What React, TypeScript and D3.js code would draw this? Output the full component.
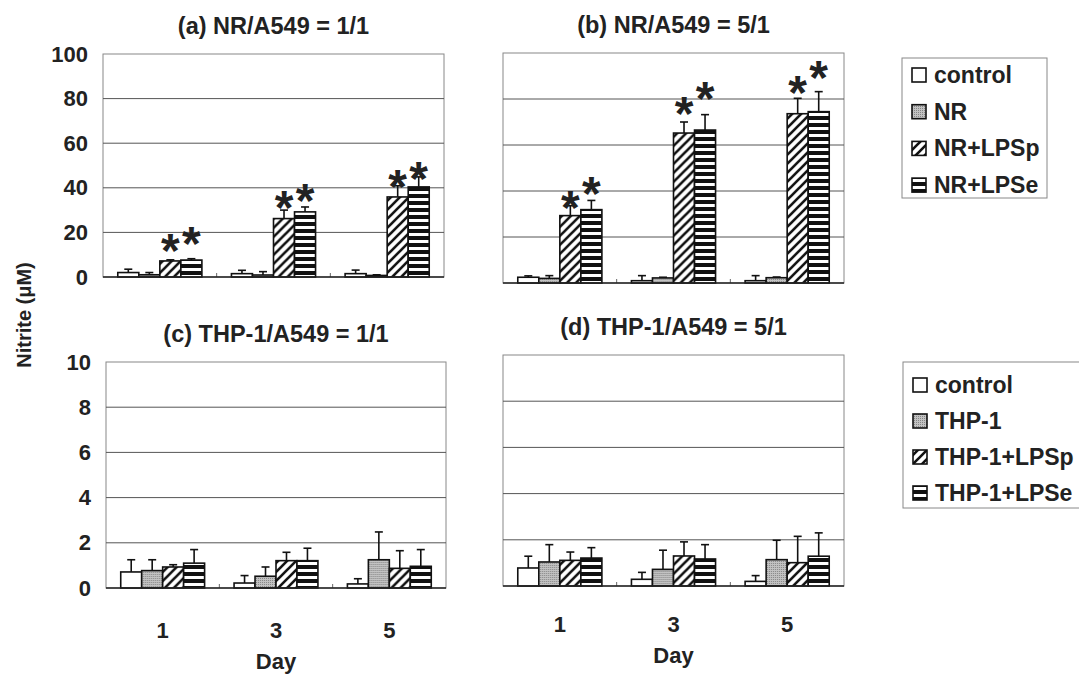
import React, { useRef, useEffect } from "react";
import * as d3 from "d3";

const days = ["1", "3", "5"];
const seriesKeys = ["control", "cells", "LPSp", "LPSe"];
const nrLegend = ["control", "NR", "NR+LPSp", "NR+LPSe"];
const thpLegend = ["control", "THP-1", "THP-1+LPSp", "THP-1+LPSe"];

// rows = day 1, 3, 5 ; cols = control, cells, +LPSp, +LPSe
const nr11Mean = [[2.0, 1.0, 7.2, 7.6], [1.5, 0.9, 26.2, 29.2], [1.5, 0.7, 35.9, 40.4]];
const nr11Err = [[1.5, 1.0, 0.5, 0.6], [1.5, 1.5, 3.8, 2.2], [1.6, 0.3, 5.0, 4.5]];
const nr11Stars = [[16.6, 19.7], [36, 39], [45.3, 48.9]];

const nr51Mean = [[2.5, 2.0, 29.3, 31.9], [1.0, 2.2, 65.2, 66.5], [1.0, 2.3, 73.6, 74.5]];
const nr51Err = [[0.6, 1.2, 4.3, 4.0], [2.2, 0.3, 4.8, 6.7], [2.2, 0.3, 6.7, 8.7]];
const nr51Stars = [[37.5, 43.5], [78.3, 84.8], [87.4, 93.9]];

const thp11Mean = [[0.71, 0.77, 0.93, 1.1], [0.22, 0.52, 1.21, 1.21], [0.18, 1.25, 0.87, 0.96]];
const thp11Err = [[0.54, 0.48, 0.1, 0.6], [0.33, 0.41, 0.37, 0.55], [0.23, 1.23, 0.78, 0.74]];

const thp51Mean = [[0.78, 1.04, 1.11, 1.21], [0.29, 0.72, 1.3, 1.17], [0.2, 1.14, 1.01, 1.29]];
const thp51Err = [[0.51, 0.75, 0.36, 0.45], [0.3, 0.83, 0.61, 0.62], [0.25, 0.84, 1.14, 1.01]];

const font = "'Liberation Sans', Arial, sans-serif";
const fills = ["#ffffff", "url(#pat-gray)", "url(#pat-diag)", "url(#pat-horiz)"];

const panels = [
  { title: "(a) NR/A549 = 1/1", mean: nr11Mean, err: nr11Err, stars: nr11Stars, max: 100, step: 20,
    left: 103, right: 444, top: 54, bottom: 277, yLabels: true, xLabels: false },
  { title: "(b) NR/A549 = 5/1", mean: nr51Mean, err: nr51Err, stars: nr51Stars, max: 100, step: 20,
    left: 503, right: 844, top: 53, bottom: 283, yLabels: false, xLabels: false },
  { title: "(c) THP-1/A549 = 1/1", mean: thp11Mean, err: thp11Err, stars: null, max: 10, step: 2,
    left: 106, right: 446, top: 362, bottom: 588, yLabels: true, xLabels: true, tickGap: 50, dayGap: 81 },
  { title: "(d) THP-1/A549 = 5/1", mean: thp51Mean, err: thp51Err, stars: null, max: 10, step: 2,
    left: 503, right: 844, top: 355, bottom: 586, yLabels: false, xLabels: true, tickGap: 46, dayGap: 77 },
];

const legends = [
  { labels: nrLegend, x: 902, y: 58, w: 145, h: 140, rowY: 75, row: 36.7 },
  { labels: thpLegend, x: 903, y: 362, w: 182, h: 146, rowY: 385, row: 36 },
];

const drawPanel = (svg, p) => {
  const width = p.right - p.left;
  const height = p.bottom - p.top;
  const g = svg.append("g").attr("transform", `translate(${p.left},${p.top})`);

  const x0 = d3.scaleBand().domain(days).range([0, width]).paddingInner(0.26).paddingOuter(0.13);
  const x1 = d3.scaleBand().domain(seriesKeys).range([0, x0.bandwidth()]);
  const y = d3.scaleLinear().domain([0, p.max]).range([height, 0]);
  const ticks = d3.range(0, p.max + p.step / 2, p.step);

  // frame + grid
  g.append("rect").attr("width", width).attr("height", height)
    .attr("fill", "none").attr("stroke", "#888").attr("stroke-width", 1);
  g.selectAll(".grid").data(ticks.slice(1, -1)).join("line")
    .attr("x1", 0).attr("x2", width).attr("y1", (d) => y(d)).attr("y2", (d) => y(d))
    .attr("stroke", "#555").attr("stroke-width", 1);

  if (p.yLabels) {
    const ya = g.append("g").call(d3.axisLeft(y).tickValues(ticks).tickSize(0).tickPadding(15));
    ya.select(".domain").remove();
    ya.selectAll("text").attr("font-family", font).attr("font-weight", "bold")
      .attr("font-size", 22).attr("fill", "#222");
  }

  // small separators between days
  g.selectAll(".sep").data(days.slice(1)).join("line")
    .attr("x1", (d) => x0(d) - (x0.step() - x0.bandwidth()) / 2)
    .attr("x2", (d) => x0(d) - (x0.step() - x0.bandwidth()) / 2)
    .attr("y1", height).attr("y2", height - 4)
    .attr("stroke", "#666").attr("stroke-width", 1);

  const groups = g.selectAll(".day").data(days).join("g")
    .attr("transform", (d) => `translate(${x0(d)},0)`);

  groups.each(function (day, i) {
    const grp = d3.select(this);
    const rows = seriesKeys.map((k, j) => ({ k, j, v: p.mean[i][j], e: p.err[i][j] }));
    // error bars (upper only)
    rows.forEach((r) => {
      const cx = x1(r.k) + x1.bandwidth() / 2;
      grp.append("line").attr("x1", cx).attr("x2", cx)
        .attr("y1", y(r.v)).attr("y2", y(r.v + r.e))
        .attr("stroke", "#111").attr("stroke-width", 1.6);
      grp.append("line").attr("x1", cx - 4).attr("x2", cx + 4)
        .attr("y1", y(r.v + r.e)).attr("y2", y(r.v + r.e))
        .attr("stroke", "#111").attr("stroke-width", 1.6);
    });
    grp.selectAll("rect").data(rows).join("rect")
      .attr("x", (r) => x1(r.k)).attr("width", x1.bandwidth())
      .attr("y", (r) => y(r.v)).attr("height", (r) => height - y(r.v))
      .attr("fill", (r) => fills[r.j]).attr("stroke", "#111").attr("stroke-width", 1.6);
    if (p.stars) {
      ["LPSp", "LPSe"].forEach((k, s) => {
        grp.append("text").text("*")
          .attr("x", x1(k) + x1.bandwidth() / 2).attr("y", y(p.stars[i][s]) + 27)
          .attr("text-anchor", "middle").attr("font-family", font).attr("font-weight", "bold")
          .attr("font-size", 48).attr("fill", "#222");
      });
    }
  });

  // bottom axis line
  g.append("line").attr("x1", 0).attr("x2", width).attr("y1", height).attr("y2", height)
    .attr("stroke", "#222").attr("stroke-width", 1.6);

  if (p.xLabels) {
    g.selectAll(".xl").data(days).join("text")
      .attr("x", (d) => x0(d) + x0.bandwidth() / 2).attr("y", height + p.tickGap)
      .attr("text-anchor", "middle").attr("font-family", font).attr("font-weight", "bold")
      .attr("font-size", 22).attr("fill", "#222").text((d) => d);
    g.append("text").attr("x", width / 2).attr("y", height + p.dayGap)
      .attr("text-anchor", "middle").attr("font-family", font).attr("font-weight", "bold")
      .attr("font-size", 22).attr("fill", "#222").text("Day");
  }

  g.append("text").attr("x", width / 2).attr("y", -20)
    .attr("text-anchor", "middle").attr("font-family", font).attr("font-weight", "bold")
    .attr("font-size", 23.5).attr("fill", "#222").text(p.title);
};

const App = () => {
  const ref = useRef(null);

  useEffect(() => {
    const svg = d3.select(ref.current);
    svg.selectAll("*").remove();

    const defs = svg.append("defs");
    const gray = defs.append("pattern").attr("id", "pat-gray")
      .attr("patternUnits", "userSpaceOnUse").attr("width", 2).attr("height", 2);
    gray.append("rect").attr("width", 2).attr("height", 2).attr("fill", "#c2c2c2");
    gray.append("rect").attr("width", 1).attr("height", 1).attr("fill", "#858585");

    const diag = defs.append("pattern").attr("id", "pat-diag")
      .attr("patternUnits", "userSpaceOnUse").attr("width", 9).attr("height", 9);
    diag.append("rect").attr("width", 9).attr("height", 9).attr("fill", "#fff");
    diag.append("path").attr("d", "M0,9 L9,0 M-3,3 L3,-3 M6,12 L12,6")
      .attr("stroke", "#111").attr("stroke-width", 2.6);

    const horiz = defs.append("pattern").attr("id", "pat-horiz")
      .attr("patternUnits", "userSpaceOnUse").attr("width", 7).attr("height", 7);
    horiz.append("rect").attr("width", 7).attr("height", 7).attr("fill", "#fff");
    horiz.append("rect").attr("width", 7).attr("height", 4).attr("fill", "#111");

    svg.append("rect").attr("width", 1079).attr("height", 675).attr("fill", "#fff");

    panels.forEach((p) => drawPanel(svg, p));

    legends.forEach((l) => {
      const lg = svg.append("g");
      lg.append("rect").attr("x", l.x).attr("y", l.y).attr("width", l.w).attr("height", l.h)
        .attr("fill", "#fff").attr("stroke", "#888").attr("stroke-width", 1);
      l.labels.forEach((lab, j) => {
        const cy = l.rowY + j * l.row;
        lg.append("rect").attr("x", l.x + 10).attr("y", cy - 7).attr("width", 14).attr("height", 14)
          .attr("fill", fills[j]).attr("stroke", "#111").attr("stroke-width", 1.6);
        lg.append("text").attr("x", l.x + 32).attr("y", cy + 8)
          .attr("font-family", font).attr("font-weight", "bold").attr("font-size", 23)
          .attr("fill", "#222").text(lab);
      });
    });

    svg.append("text").attr("transform", "translate(31,315) rotate(-90)")
      .attr("text-anchor", "middle").attr("font-family", font).attr("font-weight", "bold")
      .attr("font-size", 20).attr("fill", "#222").text("Nitrite (\u03bcM)");
  }, []);

  return (
    <svg ref={ref} width={1079} height={675}
      style={{ position: "absolute", left: 0, top: 0, display: "block" }} />
  );
};

export default App;
